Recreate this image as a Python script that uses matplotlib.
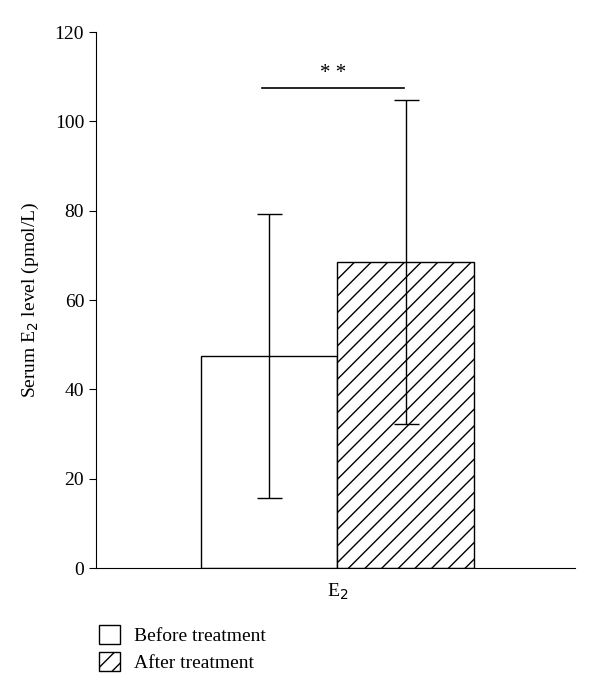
import matplotlib
matplotlib.use("Agg")
import matplotlib.pyplot as plt
from matplotlib.patches import Patch

plt.rcParams['font.family'] = ['Liberation Serif', 'DejaVu Serif']
plt.rcParams['hatch.linewidth'] = 1.0

groups = ['Before treatment', 'After treatment']
means = [47.5, 68.5]
errs = [31.8, 36.2]
hatches = ['', '//']
xpos = [-0.5, 0.5]
sig_y = 107.5
sig_x = [-0.55, 0.49]

fig = plt.figure(figsize=(6, 6.97), dpi=100)
ax = fig.add_axes([0.16, 0.185, 0.798, 0.769])

for x, m, e, h in zip(xpos, means, errs, hatches):
    ax.bar(x, m, width=1.0, color='white', edgecolor='black', linewidth=1.0, hatch=h)
    ax.errorbar(x, m, yerr=e, fmt='none', ecolor='black', elinewidth=1.0, capsize=9, capthick=1.0)

ax.plot(sig_x, [sig_y, sig_y], color='black', lw=1.2)
ax.text(sum(sig_x) / 2, sig_y + 1.2, '* *', ha='center', va='bottom', fontsize=15)

ax.set_xlim(-1.77, 1.74)
ax.set_ylim(0, 120)
ax.set_yticks(range(0, 121, 20))
ax.set_xticks([0])
ax.set_xticklabels(['E$_2$'])
ax.tick_params(axis='x', length=0, pad=10, labelsize=14)
ax.tick_params(axis='y', direction='out', length=5, labelsize=14)
ax.spines['top'].set_visible(False)
ax.spines['right'].set_visible(False)
ax.set_ylabel('Serum E$_2$ level (pmol/L)', fontsize=14, labelpad=10)

handles = [Patch(facecolor='white', edgecolor='black', hatch=h, label=g) for g, h in zip(groups, hatches)]
fig.legend(handles=handles, loc='upper left', bbox_to_anchor=(0.135, 0.128), frameon=False,
           fontsize=14, handlelength=1.1, handleheight=1.1, labelspacing=0.35, handletextpad=0.7)

fig.savefig('out.png', dpi=100)
